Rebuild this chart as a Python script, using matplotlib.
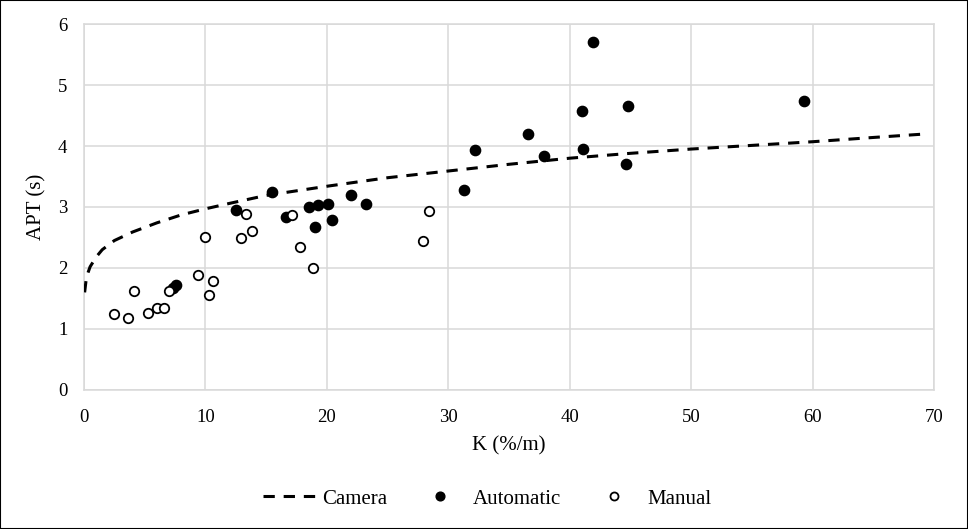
import matplotlib

matplotlib.use("Agg")
import matplotlib.pyplot as plt
from matplotlib.patches import Rectangle

# Camera trend line
camera_k = [0.05, 0.2, 0.5, 1, 1.5, 2.5, 4, 6, 8, 10, 12, 15, 20, 25, 30, 35, 40, 45, 50, 55, 60, 65, 69.5]
camera_apt = [1.6, 1.85, 2.02, 2.18, 2.3, 2.45, 2.59, 2.74, 2.87, 2.97, 3.06, 3.19, 3.34, 3.48, 3.59,
              3.7, 3.8, 3.88, 3.95, 4.01, 4.07, 4.14, 4.2]

auto_k = [7.3, 7.6, 12.5, 15.5, 16.6, 18.5, 19.0, 19.3, 20.1, 20.4, 22.0, 23.2,
          31.3, 32.2, 36.6, 37.9, 41.0, 41.1, 41.9, 44.6, 44.8, 59.3]
auto_apt = [1.67, 1.72, 2.95, 3.25, 2.83, 3.0, 2.68, 3.04, 3.05, 2.78, 3.2, 3.05,
            3.28, 3.93, 4.2, 3.83, 4.58, 3.95, 5.7, 3.7, 4.65, 4.74]

manual_k = [2.5, 3.6, 4.1, 5.3, 6.0, 6.6, 7.0, 9.4, 10.0, 10.3, 10.6, 12.9, 13.3, 13.8,
            17.1, 17.8, 18.9, 27.9, 28.4]
manual_apt = [1.25, 1.18, 1.62, 1.26, 1.34, 1.34, 1.62, 1.88, 2.5, 1.56, 1.79, 2.49, 2.89, 2.61,
              2.87, 2.34, 2.0, 2.44, 2.93]

plt.rcParams["font.family"] = ["Liberation Serif", "DejaVu Serif"]

fig = plt.figure(figsize=(9.68, 5.29), dpi=100)
ax = fig.add_axes([0.0868, 0.2628, 0.878, 0.6918])

grid_color = "#d9d9d9"
ax.plot(camera_k, camera_apt, color="black", linewidth=2.2, dashes=(3.7, 2.9),
        label="Camera", zorder=3)
ax.plot(auto_k, auto_apt, linestyle="none", marker="o", markersize=7.4,
        markerfacecolor="black", markeredgecolor="black", label="Automatic", zorder=4)
ax.plot(manual_k, manual_apt, linestyle="none", marker="o", markersize=6.8,
        markerfacecolor="white", markeredgecolor="black", markeredgewidth=1.3,
        label="Manual", zorder=4)

ax.set_xlim(0, 70)
ax.set_ylim(0, 6)
ax.set_xticks(range(0, 71, 10))
ax.set_yticks(range(0, 7))
ax.grid(True, color=grid_color, linewidth=1.1)
ax.set_axisbelow(True)
for side in ax.spines.values():
    side.set_color(grid_color)
    side.set_linewidth(1.1)
ax.tick_params(length=0, labelsize=13.5)
ax.tick_params(axis="x", pad=14)
ax.tick_params(axis="y", pad=12)

ax.set_xlabel("K (%/m)", fontsize=15, labelpad=7)
ax.set_ylabel("APT (s)", fontsize=15, labelpad=8)

fig.legend(loc="center", bbox_to_anchor=(0.503, 0.057), ncol=3, frameon=False,
           fontsize=15, handlelength=2.55, columnspacing=1.25, handletextpad=0.31,
           markerscale=0.85)

fig.patches.append(Rectangle((0, 0), 1, 1, transform=fig.transFigure, fill=False,
                             edgecolor="black", linewidth=1.5))

fig.savefig("out.png", dpi=100)
